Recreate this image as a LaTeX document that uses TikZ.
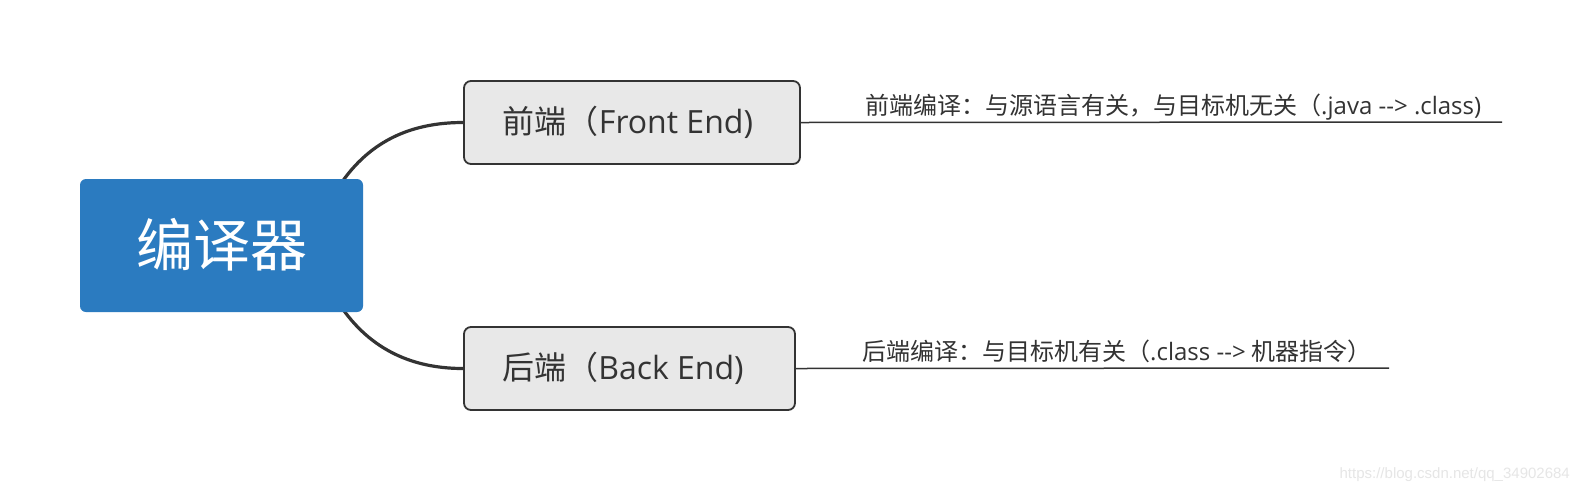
\documentclass[tikz,border=0pt]{standalone}
\usepackage{fontspec}
\setmainfont{Open Sans}
\newfontfamily\cjk{Noto Sans CJK SC}
\newfontfamily\wmfont{Liberation Sans}
\definecolor{rootblue}{HTML}{2B7BC0}
\definecolor{boxgray}{HTML}{E8E8E8}
\definecolor{edgegray}{HTML}{333333}
\definecolor{txtgray}{HTML}{333333}
\definecolor{wmgray}{HTML}{E6E6E6}
\begin{document}
\begin{tikzpicture}[x=1pt,y=-1pt,
  rootbox/.style={fill=rootblue, rounded corners=6pt, inner sep=0pt},
  topicbox/.style={fill=boxgray, draw=edgegray, line width=1.8pt, rounded corners=7pt, inner sep=0pt},
  branch/.style={draw=edgegray, line width=3.2pt},
  leafline/.style={draw=edgegray, line width=1.5pt},
  leaftext/.style={anchor=base west, inner sep=0pt, text=txtgray, font=\fontsize{24}{28}\selectfont}
]
\useasboundingbox (0,0) rectangle (1581,491);
\fill[white] (0,0) rectangle (1581,491);

% branches (drawn first, hidden partly by the root)
\coordinate (r1) at (342,182);
\coordinate (r2) at (342,308);
\node[topicbox, minimum width=336pt, minimum height=83pt] (front) at (632,122.5) {};
\node[topicbox, minimum width=331pt, minimum height=83pt] (back) at (629.5,368.5) {};
\draw[branch] (r1) .. controls (375,135) and (420,122.5) .. (front.west);
\draw[branch] (r2) .. controls (375,355) and (420,368.5) .. (back.west);

\node[rootbox, minimum width=283pt, minimum height=133pt] (root) at (221.5,245.5) {};
\node[text=white, inner sep=0pt] (roottext) at (221.5,245) {\cjk\fontsize{57}{60}\selectfont 编译器};

\node[text=txtgray, inner sep=0pt] (fronttext) at (628,122.5) {\fontsize{32}{38}\selectfont{\cjk 前端（}Front End)};
\node[text=txtgray, inner sep=0pt] (backtext) at (623,368.5) {\fontsize{32}{38}\selectfont{\cjk 后端（}Back End)};

% leaf lines and labels
\coordinate (fend) at (1502,122);
\coordinate (bend) at (1389,368);
\draw[leafline] (front.east) -- (fend);
\draw[leafline] (back.east) -- (bend);
\node[leaftext] (flabel) at (865,114) {{\cjk 前端编译：与源语言有关，与目标机无关（}.java -{}-> .class)};
\node[leaftext] (blabel) at (862,360) {{\cjk 后端编译：与目标机有关（}.class -{}-> {\cjk 机器指令）}};

\node[anchor=base east, inner sep=0pt, text=wmgray, font=\wmfont\fontsize{15}{18}\selectfont] (wm) at (1570,478) {https://blog.csdn.net/qq\_34902684};
\end{tikzpicture}
\end{document}
